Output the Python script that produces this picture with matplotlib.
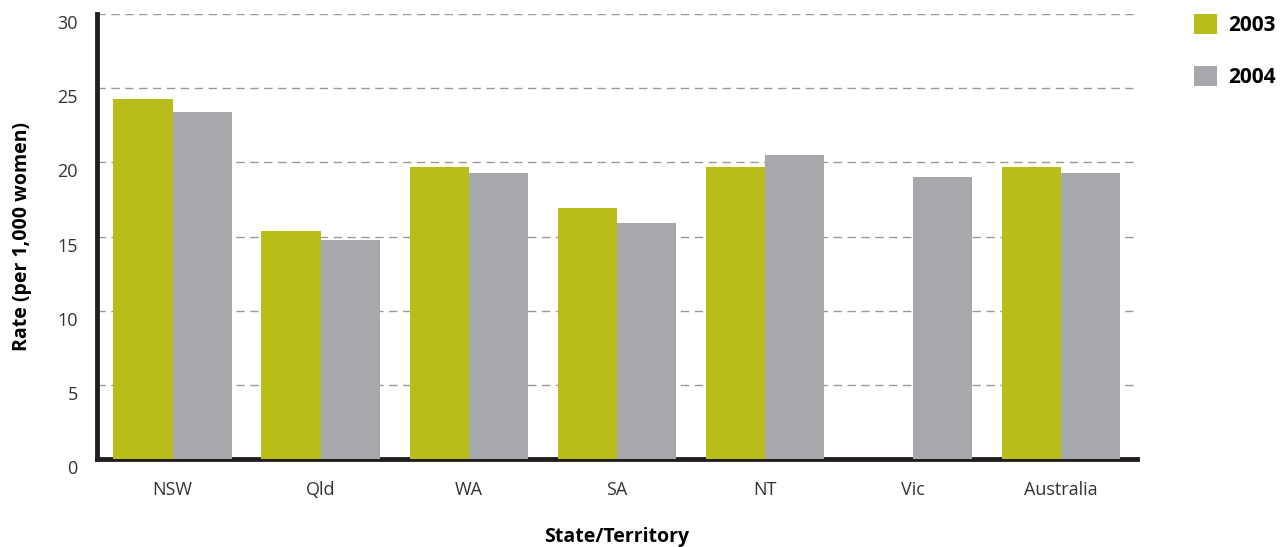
import numpy as np
import matplotlib.pyplot as plt
from matplotlib.transforms import ScaledTranslation

plt.rcParams['font.family'] = ['Open Sans', 'DejaVu Sans']

states = ['NSW', 'Qld', 'WA', 'SA', 'NT', 'Vic', 'Australia']
rate_2003 = [24.3, 15.4, 19.7, 16.9, 19.7, np.nan, 19.7]
rate_2004 = [23.4, 14.8, 19.3, 15.9, 20.5, 19.0, 19.3]

green = '#b8bd1a'
grey = '#a7a8ab'

fig = plt.figure(figsize=(12.82, 5.47), dpi=100)
ax = fig.add_axes([0.0757, 0.161, 0.811, 0.813])

x = np.arange(len(states))
w = 0.4
ax.bar(x - w / 2, rate_2003, w, color=green, label='2003', zorder=3)
ax.bar(x + w / 2, rate_2004, w, color=grey, label='2004', zorder=3)

ax.set_xlim(-0.51, len(states) - 0.49)
ax.set_ylim(0, 30)
ax.set_yticks(range(0, 31, 5))
ax.set_xticks(x)
ax.set_xticklabels(states)
ax.tick_params(length=0, labelsize=13, labelcolor='#333333')
ax.tick_params(axis='x', pad=16)
ax.tick_params(axis='y', pad=14)

# y tick labels sit a little below their gridlines
shift = ScaledTranslation(0, -8 / 100, fig.dpi_scale_trans)
for lab in ax.get_yticklabels():
    lab.set_transform(lab.get_transform() + shift)

for v in range(5, 31, 5):
    ax.axhline(v, color='#999999', lw=1, ls=(0, (6, 4)), zorder=1)

for s in ['top', 'right']:
    ax.spines[s].set_visible(False)
ax.spines['left'].set_linewidth(3.5)
ax.spines['bottom'].set_linewidth(3.5)
ax.spines['left'].set_color('#231f20')
ax.spines['bottom'].set_color('#231f20')
ax.spines['left'].set_bounds(0, 30)

ax.set_ylabel('Rate (per 1,000 women)', fontsize=14, fontweight='bold', labelpad=18)
ax.set_xlabel('State/Territory', fontsize=14, fontweight='bold', labelpad=20)

leg = fig.legend(loc='upper left', bbox_to_anchor=(0.917, 1.008), frameon=False,
                 prop={'weight': 'bold', 'size': 15},
                 handlelength=1.1, handleheight=1.1, labelspacing=1.4,
                 handletextpad=0.5)

fig.savefig('out.png', dpi=100)
